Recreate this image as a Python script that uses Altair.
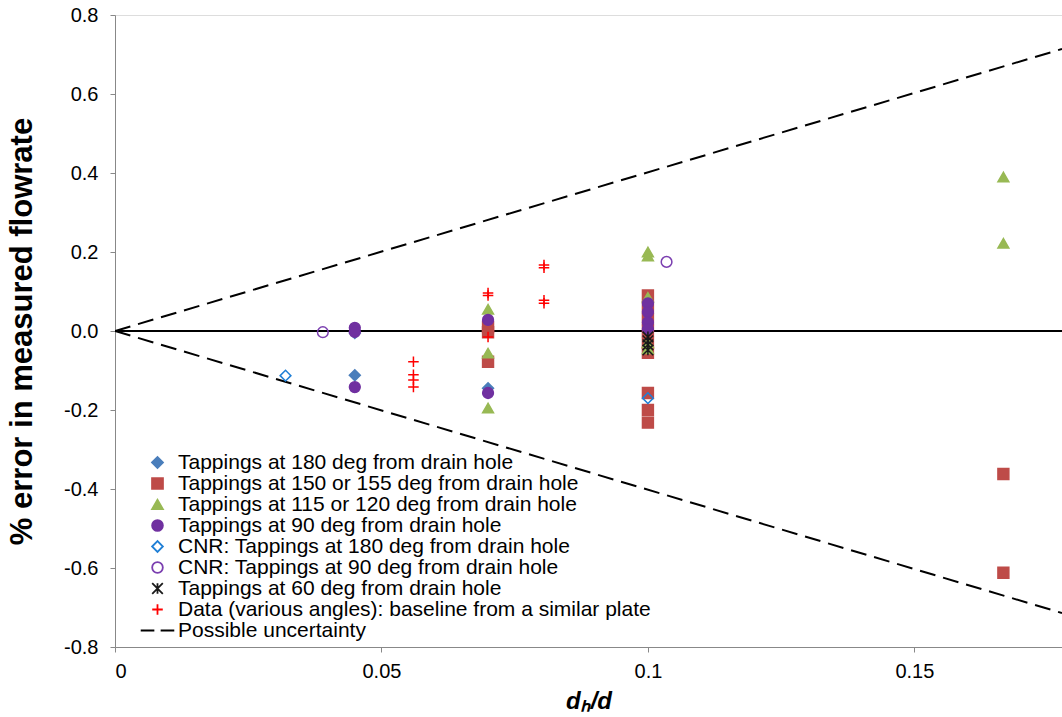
import altair as alt
import pandas as pd

labels = [
    "Tappings at 180 deg from drain hole",
    "Tappings at 150 or 155 deg from drain hole",
    "Tappings at 115 or 120 deg from drain hole",
    "Tappings at 90 deg from drain hole",
    "CNR: Tappings at 180 deg from drain hole",
    "CNR: Tappings at 90 deg from drain hole",
    "Tappings at 60 deg from drain hole",
    "Data (various angles): baseline from a similar plate",
    "Possible uncertainty",
]

s180_x = [0.045, 0.045, 0.07]
s180_y = [-0.005, -0.112, -0.145]

s150_x = [0.07, 0.07, 0.07, 0.1, 0.1, 0.1, 0.1, 0.1, 0.1, 0.1, 0.1, 0.1, 0.1667, 0.1667]
s150_y = [0.01, -0.003, -0.078, 0.09, 0.06, 0.03, 0.0, -0.03, -0.055, -0.157, -0.2, -0.232, -0.362, -0.612]

s115_x = [0.07, 0.07, 0.07, 0.1, 0.1, 0.1, 0.1, 0.1, 0.1667, 0.1667]
s115_y = [0.055, -0.056, -0.195, 0.2, 0.19, 0.085, -0.03, -0.045, 0.39, 0.222]

s90_x = [0.045, 0.045, 0.045, 0.07, 0.07, 0.1, 0.1, 0.1, 0.1]
s90_y = [0.008, -0.002, -0.142, 0.028, -0.157, 0.07, 0.048, 0.022, 0.005]

cnr180_x = [0.032, 0.1]
cnr180_y = [-0.113, -0.17]

cnr90_x = [0.039, 0.1035]
cnr90_y = [-0.003, 0.175]

s60_x = [0.1, 0.1, 0.1, 0.1]
s60_y = [-0.015, -0.025, -0.035, -0.048]

base_x = [0.056, 0.056, 0.056, 0.056, 0.07, 0.07, 0.07, 0.0805, 0.0805, 0.0805, 0.0805]
base_y = [-0.078, -0.111, -0.124, -0.142, 0.096, 0.09, -0.015, 0.167, 0.16, 0.078, 0.07]

unc_x = [0.0, 0.1777]
unc_upper = [0.0, 0.714]
unc_lower = [0.0, -0.714]

x_ticks = [0, 0.05, 0.1, 0.15]
y_ticks = [-0.8, -0.6, -0.4, -0.2, 0.0, 0.2, 0.4, 0.6, 0.8]

stroke_colors = ["#4a7ebb", "#be4b48", "#98b954", "#7030a0", "#1f7fd6",
                 "#7b3fb0", "#1a1a1a", "#ff0000", "#000000"]
fill_colors = ["#4a7ebb", "#be4b48", "#98b954", "#7030a0", "transparent",
               "transparent", "transparent", "transparent", "transparent"]
plus_path = "M-1,0L1,0M0,-1L0,1"
star_path = "M-1,-1L1,1M-1,1L1,-1M0,-1L0,1"
dash_path = "M-3.2,0L-0.6,0M0.6,0L3.2,0"
shapes = ["diamond", "square", "triangle-up", "circle", "diamond",
          "circle", star_path, plus_path, dash_path]
sizes = [120, 110, 110, 100, 120, 130, 110, 190, 170]

rows = []
series = [(s180_x, s180_y), (s150_x, s150_y), (s115_x, s115_y), (s90_x, s90_y),
          (cnr180_x, cnr180_y), (cnr90_x, cnr90_y), (s60_x, s60_y), (base_x, base_y)]
for i, (xs, ys) in enumerate(series):
    for xv, yv in zip(xs, ys):
        rows.append({"x": xv, "y": yv, "series": labels[i], "order": i})
pts = pd.DataFrame(rows)

lines = pd.DataFrame(
    [{"x": xv, "y": yv, "branch": "upper", "series": labels[8]} for xv, yv in zip(unc_x, unc_upper)]
    + [{"x": xv, "y": yv, "branch": "lower", "series": labels[8]} for xv, yv in zip(unc_x, unc_lower)]
)

FONT = "Liberation Sans"

xscale = alt.Scale(domain=[0, 0.1777], nice=False, zero=True)
yscale = alt.Scale(domain=[-0.8, 0.8], nice=False)

xaxis = alt.Axis(values=x_ticks, format="~g", title="dₕ/d", titleFontStyle="italic",
                 titleFontWeight="bold", titleFontSize=24, labelFontSize=20,
                 tickSize=5, labelPadding=9, titlePadding=8, grid=False)
yaxis = alt.Axis(values=y_ticks, labelExpr="replace(format(datum.value, '.1f'), '\u2212', '-')",
                 title="% error in measured flowrate", titleFontWeight="bold",
                 titleFontSize=31, labelFontSize=20, tickSize=5, labelPadding=12,
                 titlePadding=25, grid=False)

legend = alt.Legend(title=None, orient="none", legendX=32, legendY=437,
                    labelFontSize=21, labelFont=FONT, labelColor="black",
                    labelLimit=0, rowPadding=-1, labelOffset=10, padding=0,
                    symbolStrokeWidth=1.8)

color_enc = alt.Color("series:N", scale=alt.Scale(domain=labels, range=stroke_colors), legend=legend)

unc = alt.Chart(lines).mark_line(strokeDash=[16, 8], strokeWidth=2, clip=True).encode(
    x=alt.X("x:Q", scale=xscale, axis=xaxis),
    y=alt.Y("y:Q", scale=yscale, axis=yaxis),
    color=color_enc,
    detail="branch:N",
)

zero = alt.Chart(pts).mark_rule(color="black", strokeWidth=2).encode(
    y=alt.datum(0),
)

points = alt.Chart(pts).mark_point(filled=False, strokeWidth=1.5, opacity=1).encode(
    x=alt.X("x:Q", scale=xscale, axis=xaxis),
    y=alt.Y("y:Q", scale=yscale, axis=yaxis),
    color=color_enc,
    fill=alt.Fill("series:N", scale=alt.Scale(domain=labels, range=fill_colors), legend=legend),
    shape=alt.Shape("series:N", scale=alt.Scale(domain=labels, range=shapes), legend=legend),
    size=alt.Size("series:N", scale=alt.Scale(domain=labels, range=sizes), legend=legend),
    order="order:Q",
)

chart = alt.layer(unc, zero, points).properties(
    width=947, height=632,
    padding={"left": 115, "top": 15, "right": 0, "bottom": 70},
    autosize=alt.AutoSizeParams(type="none"),
).configure_view(stroke=None).configure_axis(
    labelFont=FONT, titleFont=FONT, labelColor="black", titleColor="black",
    domainColor="black", tickColor="black", grid=False, domainWidth=1,
).configure(background="white")

chart.save("out.html", embed_options={"renderer": "svg", "actions": False})
